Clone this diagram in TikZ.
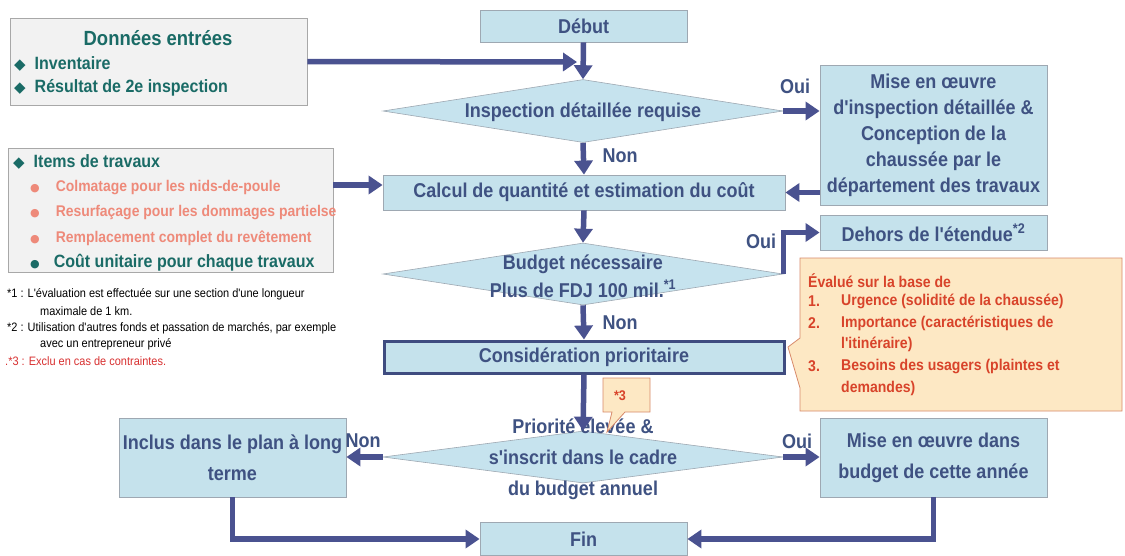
\documentclass[tikz,border=0pt]{standalone}
\usepackage{fontspec}
\setmainfont{Liberation Sans}
\newfontfamily\nar[FakeStretch=0.9]{Liberation Sans}
\newfontfamily\sym{DejaVu Sans}
\usetikzlibrary{shapes.geometric,arrows.meta,calc}
\definecolor{teal}{HTML}{1A6B66}
\definecolor{salmon}{HTML}{EE8A7A}
\definecolor{ftext}{HTML}{3F5282}
\definecolor{arrowc}{HTML}{4A5290}
\definecolor{boxfill}{HTML}{C5E2EC}
\definecolor{diafill}{HTML}{C6E3EE}
\definecolor{boxline}{HTML}{9EA8B2}
\definecolor{consid}{HTML}{3F4C80}
\definecolor{callfill}{HTML}{FDE8C4}
\definecolor{callline}{HTML}{D88A6A}
\definecolor{calltext}{HTML}{D8432A}
\definecolor{grayfill}{HTML}{F2F2F2}
\definecolor{grayline}{HTML}{A8A8A8}
\definecolor{notered}{HTML}{D83030}
\tikzset{
  x=1pt,y=-1pt,
  fbox/.style={draw=boxline, fill=boxfill, line width=0.8pt, inner sep=0pt, text=ftext, align=center,
    font=\nar\bfseries\fontsize{20}{26}\selectfont},
  dia/.style={diamond, draw=boxline, fill=diafill, line width=0.6pt, inner sep=0pt},
  dtext/.style={text=ftext, align=center, font=\nar\bfseries\fontsize{20}{28}\selectfont},
  arr/.style={draw=arrowc, line width=5.5pt, -{Triangle[length=14pt,width=18pt]}, line join=miter},
  lbl/.style={text=ftext, font=\nar\bfseries\fontsize{20}{22}\selectfont, inner sep=0pt},
  graybox/.style={draw=grayline, fill=grayfill, line width=0.8pt},
  itm/.style={anchor=west, inner sep=0pt, font=\nar\bfseries\fontsize{17.8}{20}\selectfont},
  sitm/.style={anchor=west, inner sep=0pt, text=salmon, font=\nar\bfseries\fontsize{15.5}{20}\selectfont},
  note/.style={anchor=west, inner sep=0pt, font=\nar\fontsize{12.2}{14}\selectfont},
  ctext/.style={anchor=west, inner sep=0pt, text=calltext, font=\nar\bfseries\fontsize{15.6}{19}\selectfont},
}
\begin{document}
\begin{tikzpicture}
\useasboundingbox (0,0) rectangle (1125,555);
\fill[white] (0,0) rectangle (1125,555);

% Input data box
\node[graybox, minimum width=297, minimum height=87, inner sep=0pt] (donnees) at (158.5,61.5) {};
\node[inner sep=0pt, text=teal, font=\nar\bfseries\fontsize{20.5}{26}\selectfont] (dtitle) at (158,38) {Données entrées};
\node[itm, text=teal] (i1) at (14,64) {{\sym\fontsize{15}{15}\selectfont ◆}\hspace{9pt}Inventaire};
\node[itm, text=teal] (i2) at (14,88) {{\sym\fontsize{15}{15}\selectfont ◆}\hspace{9pt}Résultat de 2e inspection};

% Work items box
\node[graybox, minimum width=325, minimum height=124, inner sep=0pt] (items) at (170.5,210) {};
\node[itm, text=teal] (w0) at (13,162) {{\sym\fontsize{15}{15}\selectfont ◆}\hspace{9pt}Items de travaux};
\node[sitm] (w1) at (30,188) {{\sym\fontsize{11}{11}\selectfont ●}\hspace{16pt}Colmatage pour les nids-de-poule};
\node[sitm] (w2) at (30,213) {{\sym\fontsize{11}{11}\selectfont ●}\hspace{16pt}Resurfaçage pour les dommages partielse};
\node[sitm] (w3) at (30,238) {{\sym\fontsize{11}{11}\selectfont ●}\hspace{16pt}Remplacement complet du revêtement};
\node[itm, text=teal] (w4) at (30,263) {{\sym\fontsize{11}{11}\selectfont ●}\hspace{14pt}Coût unitaire pour chaque travaux};

% Footnotes
\node[note] (n1) at (7,294) {*1 : L'évaluation est effectuée sur une section d'une longueur};
\node[note] (n1b) at (40,311) {maximale de 1 km.};
\node[note] (n2) at (7,328) {*2 : Utilisation d'autres fonds et passation de marchés, par exemple};
\node[note] (n2b) at (40,344) {avec un entrepreneur privé};
\node[note, text=notered] (n3) at (5,361) {.*3 : Exclu en cas de contraintes.};

% Flow boxes
\node[fbox, minimum width=207, minimum height=32] (debut) at (583.5,26) {Début};
\node[dia, minimum width=400, minimum height=63] (d1) at (583,111) {};
\node[dtext] (d1t) at (583,112) {Inspection détaillée requise};
\node[fbox, minimum width=227, minimum height=140] (mise) at (933.5,135) {Mise en œuvre\\d'inspection détaillée \&\\Conception de la\\chaussée par le\\département des travaux};
\node[fbox, minimum width=402, minimum height=35] (calc) at (584,192.5) {Calcul de quantité et estimation du coût};
\node[dia, minimum width=400, minimum height=62] (d2) at (583,274) {};
\node[dtext] (d2t) at (583,276) {Budget nécessaire\\Plus de FDJ 100 mil.\textsuperscript{*1}};
\node[fbox, minimum width=227, minimum height=35] (dehors) at (933.5,232.5) {Dehors de l'étendue\textsuperscript{*2}};
\node[fbox, draw=consid, line width=3pt, minimum width=400, minimum height=32] (consid) at (584,357) {Considération prioritaire};
\node[dia, minimum width=400, minimum height=52] (d3) at (583,457) {};
\node[dtext, font=\nar\bfseries\fontsize{20}{31}\selectfont] (d3t) at (583,459) {Priorité élevée \&\\s'inscrit dans le cadre\\du budget annuel};
\node[fbox, minimum width=227, minimum height=79, font=\nar\bfseries\fontsize{20}{31}\selectfont] (inclus) at (232.5,457.5) {Inclus dans le plan à long\\terme};
\node[fbox, minimum width=227, minimum height=79, font=\nar\bfseries\fontsize{20}{31}\selectfont] (mise2) at (933.5,457.5) {Mise en œuvre dans\\budget de cette année};
\node[fbox, minimum width=207, minimum height=33] (fin) at (583.5,539) {Fin};

% Callout (priority criteria)
\draw[draw=callline, fill=callfill, line width=0.8pt]
  (800,258) -- (1122,258) -- (1122,411) -- (800,411) -- (800,388) -- (788,347) -- (800,338) -- cycle;
\node[ctext] (c0) at (808,281) {Évalué sur la base de};
\node[ctext] (c1) at (808,301) {1.};
\node[ctext] (c1t) at (841,301) {Urgence (solidité de la chaussée)};
\node[ctext] (c2) at (808,323) {2.};
\node[ctext] (c2t) at (841,323) {Importance (caractéristiques de};
\node[ctext] (c2b) at (841,344) {l'itinéraire)};
\node[ctext] (c3) at (808,366) {3.};
\node[ctext] (c3t) at (841,366) {Besoins des usagers (plaintes et};
\node[ctext] (c3b) at (841,388) {demandes)};

% Connectors
\coordinate (j1) at (577,62);
\draw[arr] (donnees.east) -- (j1);
\draw[arr] (debut.south) -- (d1.north);
\draw[arr] (d1.east) -- (mise.west |- d1.east);
\draw[arr] (d1.south) -- (calc.north);
\draw[arr] (mise.west |- calc.east) -- (calc.east);
\draw[arr] (items.east |- 0,185) -- (calc.west |- 0,185);
\draw[arr] (calc.south) -- (d2.north);
\draw[arr] (d2.east) |- (dehors.west);
\draw[arr] (d2.south) -- (consid.north);
\draw[arr] (consid.south) -- (d3.north);
\draw[arr] (d3.west) -- (inclus.east |- d3.west);
\draw[arr] (d3.east) -- (mise2.west |- d3.east);
\draw[arr] (inclus.south) |- (fin.west);
\draw[arr] (mise2.south) |- (fin.east);

% Branch labels
\node[lbl] (l1) at (795,86) {Oui};
\node[lbl] (l2) at (620,156) {Non};
\node[lbl] (l3) at (761,241) {Oui};
\node[lbl] (l4) at (620,323) {Non};
\node[lbl] (l5) at (363,441) {Non};
\node[lbl] (l6) at (797,441) {Oui};

% Small callout *3
\draw[draw=callline, fill=callfill, line width=0.8pt]
  (603,378) -- (650,378) -- (650,412) -- (625,412) -- (607,432) -- (612,412) -- (603,412) -- cycle;
\node[inner sep=0pt, text=calltext, font=\nar\bfseries\fontsize{14}{16}\selectfont] (s3) at (620,396) {*3};
\end{tikzpicture}
\end{document}
